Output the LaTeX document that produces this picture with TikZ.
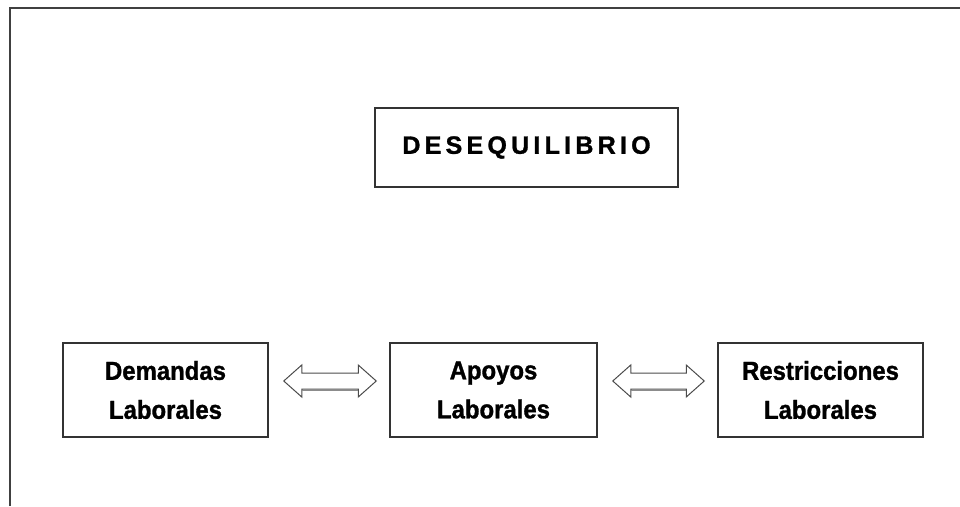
\documentclass[tikz,border=0pt]{standalone}
\usepackage{fontspec}
\setmainfont{Liberation Sans}
\newfontfamily\boxfont{Liberation Sans}[FakeStretch=0.92, FakeBold=1.2]
\newfontfamily\titlefont{Liberation Sans}[LetterSpace=17, FakeBold=1.2]
\usepackage{tikz}
\usetikzlibrary{calc}
\tikzset{
    box/.style={draw=black!80, line width=1.5pt, align=center, inner sep=0pt,
        minimum width=205pt, minimum height=94pt, font=\boxfont\bfseries\fontsize{26}{39}\selectfont}, % cajas de abajo
    title box/.style={box, minimum width=303pt, minimum height=79pt, font=\titlefont\bfseries\fontsize{25}{30}\selectfont}, % caja del titulo
    hollow arrow/.style={draw=black!70, fill=white, line width=1pt, line join=miter} % flecha doble hueca
}
% flecha doble entre dos cajas
\newcommand{\biarrow}[2]{
    \path ($(#1.east)+(15,-9)$) coordinate (#1-l) ($(#2.west)+(-13,-9)$) coordinate (#2-r);
    \draw[hollow arrow] (#1-l) -- ++(18,-16) -- ++(0,8) -- ($(#2-r)+(-18,-8)$) -- ++(0,-8) -- (#2-r)
        -- ++(-18,16) -- ++(0,-8) -- ($(#1-l)+(18,8)$) -- ++(0,8) -- cycle;
    \draw[black!45, line width=1.2pt] ($(#1-l)+(18,9.5)$) -- ($(#2-r)+(-18,9.5)$);
}

\begin{document}
\begin{tikzpicture}[x=1pt, y=-1pt]
    \useasboundingbox (0,0) rectangle (960,506);
    \draw[black!75, line width=1.5pt] (10,506) -- (10,8) -- (960,8);

    \node[title box] (deseq) at (526.5,147.5) {DESEQUILIBRIO};

    \node[box] (dem) at (165.5,390) {Demandas\\Laborales};
    \node[box, minimum width=207pt] (apo) at (493.5,390) {Apoyos\\Laborales};
    \node[box] (res) at (820.5,390) {Restricciones\\Laborales};

    \biarrow{dem}{apo}
    \biarrow{apo}{res}
\end{tikzpicture}
\end{document}
